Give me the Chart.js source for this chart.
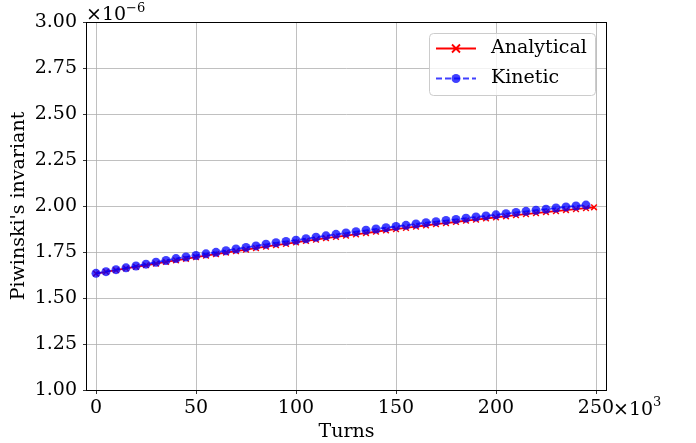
<!DOCTYPE html>
<html>
<head>
<meta charset="utf-8">
<script src="https://cdn.jsdelivr.net/npm/chart.js@4.4.0/dist/chart.umd.min.js"></script>
<style>
  html, body { margin: 0; padding: 0; background: #fff; }
  #wrap { width: 696px; height: 443px; }
</style>
</head>
<body>
<div id="wrap"><canvas id="piwChart" width="696" height="443"></canvas></div>
<script>
// turns in units of 1e3, invariant in units of 1e-6
const turnsKinetic = [0, 5, 10, 15, 20, 25, 30, 35, 40, 45, 50, 55, 60, 65, 70, 75, 80, 85, 90, 95,
    100, 105, 110, 115, 120, 125, 130, 135, 140, 145, 150, 155, 160, 165, 170, 175, 180, 185, 190, 195,
    200, 205, 210, 215, 220, 225, 230, 235, 240, 245];
const kinetic = [1.634, 1.643, 1.654, 1.664, 1.674, 1.684, 1.694, 1.704, 1.714, 1.723,
    1.731, 1.740, 1.748, 1.757, 1.766, 1.775, 1.783, 1.792, 1.800, 1.807,
    1.814, 1.822, 1.830, 1.838, 1.846, 1.853, 1.860, 1.868, 1.875, 1.882,
    1.889, 1.895, 1.902, 1.909, 1.915, 1.921, 1.927, 1.934, 1.940, 1.946,
    1.952, 1.958, 1.965, 1.971, 1.977, 1.983, 1.989, 1.995, 2.000, 2.005];

const turnsAnalytical = [0, 5, 10, 15, 20, 25, 30, 35, 40, 45, 50, 55, 60, 65, 70, 75, 80, 85, 90, 95,
    100, 105, 110, 115, 120, 125, 130, 135, 140, 145, 150, 155, 160, 165, 170, 175, 180, 185, 190, 195,
    200, 205, 210, 215, 220, 225, 230, 235, 240, 245, 249];
const analytical = [1.633, 1.642, 1.651, 1.661, 1.669, 1.678, 1.687, 1.696, 1.705, 1.713,
    1.722, 1.730, 1.738, 1.747, 1.755, 1.763, 1.771, 1.779, 1.787, 1.794,
    1.802, 1.810, 1.817, 1.825, 1.832, 1.839, 1.846, 1.853, 1.860, 1.867,
    1.874, 1.881, 1.888, 1.894, 1.901, 1.907, 1.913, 1.920, 1.926, 1.932,
    1.938, 1.944, 1.950, 1.956, 1.961, 1.967, 1.972, 1.978, 1.983, 1.988, 1.993];

const xTicks = [0, 50, 100, 150, 200, 250];
const yTicks = [1.00, 1.25, 1.50, 1.75, 2.00, 2.25, 2.50, 2.75, 3.00];

const FONT = "DejaVu Serif";
const SIZE = 19;

Chart.defaults.font.family = FONT;
Chart.defaults.font.size = SIZE;
Chart.defaults.color = "#000";

function toXY(xs, ys) {
    return xs.map((x, i) => ({ x: x, y: ys[i] }));
}

// matplotlib-like frame, labels, offset text and legend
const decorations = {
    id: "decorations",
    afterDraw(chart) {
        const ctx = chart.ctx;
        const a = chart.chartArea;
        ctx.save();

        // spines
        ctx.strokeStyle = "#000";
        ctx.lineWidth = 1;
        ctx.strokeRect(Math.round(a.left) - 0.5, Math.round(a.top) + 0.5,
            Math.round(a.right - a.left) + 1, Math.round(a.bottom - a.top));

        ctx.fillStyle = "#000";
        ctx.font = SIZE + "px '" + FONT + "'";

        // axis titles
        ctx.textAlign = "center";
        ctx.textBaseline = "middle";
        ctx.fillText("Turns", (a.left + a.right) / 2, 432);
        ctx.save();
        ctx.translate(19, (a.top + a.bottom) / 2);
        ctx.rotate(-Math.PI / 2);
        ctx.fillText("Piwinski's invariant", 0, 0);
        ctx.restore();

        // offset texts
        ctx.textAlign = "left";
        ctx.textBaseline = "alphabetic";
        let w = ctx.measureText("\u00d710").width;
        ctx.fillText("\u00d710", 86, 20);
        ctx.font = "13px '" + FONT + "'";
        ctx.fillText("\u22126", 86 + w, 12);

        ctx.font = SIZE + "px '" + FONT + "'";
        w = ctx.measureText("\u00d710").width;
        ctx.fillText("\u00d710", 613, 415);
        ctx.font = "13px '" + FONT + "'";
        ctx.fillText("3", 613 + w, 406);

        // legend
        const lx = 429.5, ly = 33.5, lw = 166, lh = 62;
        ctx.beginPath();
        ctx.roundRect(lx, ly, lw, lh, 4);
        ctx.fillStyle = "rgba(255,255,255,0.8)";
        ctx.fill();
        ctx.strokeStyle = "#cccccc";
        ctx.stroke();

        const r1 = 48.5, r2 = 78.5;
        ctx.strokeStyle = "red";
        ctx.lineWidth = 1.8;
        ctx.beginPath();
        ctx.moveTo(436, r1); ctx.lineTo(476, r1);
        ctx.moveTo(452, r1 - 4); ctx.lineTo(460, r1 + 4);
        ctx.moveTo(452, r1 + 4); ctx.lineTo(460, r1 - 4);
        ctx.stroke();

        ctx.strokeStyle = "rgba(0,0,255,0.75)";
        ctx.setLineDash([6, 3]);
        ctx.beginPath();
        ctx.moveTo(436, r2); ctx.lineTo(476, r2);
        ctx.stroke();
        ctx.setLineDash([]);
        ctx.fillStyle = "rgba(0,0,255,0.75)";
        ctx.beginPath();
        ctx.arc(456, r2, 4.5, 0, Math.PI * 2);
        ctx.fill();

        ctx.fillStyle = "#000";
        ctx.font = SIZE + "px '" + FONT + "'";
        ctx.textBaseline = "middle";
        ctx.fillText("Analytical", 491, r1);
        ctx.fillText("Kinetic", 491, r2);

        ctx.restore();
    }
};

new Chart(document.getElementById("piwChart"), {
    type: "line",
    data: {
        datasets: [
            {
                label: "Kinetic",
                data: toXY(turnsKinetic, kinetic),
                borderColor: "rgba(0,0,255,0.75)",
                backgroundColor: "rgba(0,0,255,0.75)",
                borderWidth: 1.8,
                borderDash: [6, 3],
                pointStyle: "circle",
                pointRadius: 4.5,
                pointBorderWidth: 0,
                fill: false,
                order: 0,
            },
            {
                label: "Analytical",
                data: toXY(turnsAnalytical, analytical),
                borderColor: "red",
                backgroundColor: "red",
                borderWidth: 1.8,
                pointStyle: "crossRot",
                pointRadius: 4,
                pointBorderWidth: 1.5,
                fill: false,
                order: 1,
            },
        ],
    },
    options: {
        responsive: false,
        animation: false,
        devicePixelRatio: 1,
        layout: { autoPadding: false, padding: { left: 0, right: 90, top: 22, bottom: 0 } },
        plugins: { legend: { display: false }, tooltip: { enabled: false } },
        scales: {
            x: {
                type: "linear",
                min: -4.5,
                max: 255,
                afterBuildTicks: (s) => { s.ticks = xTicks.map((v) => ({ value: v })); },
                afterFit: (s) => { s.height = 53; },
                ticks: { padding: 3, maxRotation: 0, callback: (v) => String(v) },
                grid: { color: "#b0b0b0", lineWidth: 0.8, tickColor: "#000", tickLength: 4 },
                border: { display: false },
            },
            y: {
                type: "linear",
                min: 1,
                max: 3,
                afterBuildTicks: (s) => { s.ticks = yTicks.map((v) => ({ value: v })); },
                afterFit: (s) => { s.width = 87; },
                ticks: { padding: 6, callback: (v) => v.toFixed(2) },
                grid: { color: "#b0b0b0", lineWidth: 0.8, tickColor: "#000", tickLength: 4 },
                border: { display: false },
            },
        },
    },
    plugins: [decorations],
});
</script>
</body>
</html>
